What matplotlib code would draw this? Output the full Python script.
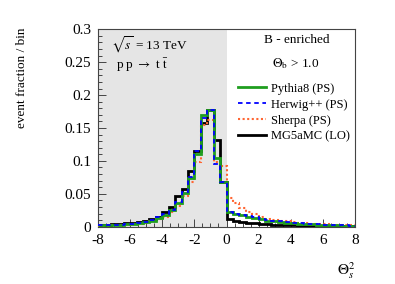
import matplotlib
matplotlib.use('Agg')
import matplotlib.pyplot as plt
import numpy as np
from matplotlib.ticker import MultipleLocator, FormatStrFormatter
from matplotlib.lines import Line2D

plt.rcParams.update({'font.family': 'Liberation Serif', 'mathtext.fontset': 'stix',
                     'font.size': 10})

# 40 bins of width 0.4 from -8 to 8
edges = np.linspace(-8, 8, 41)

pythia8 = [0.002, 0.002, 0.0025, 0.003, 0.0035, 0.004, 0.005, 0.007, 0.009, 0.013,
           0.018, 0.025, 0.036, 0.051, 0.074, 0.110, 0.169, 0.177, 0.105, 0.068,
           0.022, 0.020, 0.018, 0.015, 0.013, 0.011, 0.009, 0.008, 0.007, 0.006,
           0.005, 0.0045, 0.004, 0.0035, 0.003, 0.0025, 0.002, 0.002, 0.0015, 0.0015]
herwig = [0.002, 0.002, 0.0025, 0.003, 0.0035, 0.0045, 0.0055, 0.007, 0.010, 0.014,
          0.019, 0.026, 0.038, 0.052, 0.075, 0.115, 0.165, 0.177, 0.095, 0.068,
          0.023, 0.020, 0.018, 0.016, 0.014, 0.012, 0.010, 0.009, 0.008, 0.007,
          0.006, 0.005, 0.0045, 0.004, 0.0035, 0.003, 0.0025, 0.002, 0.002, 0.0015]
sherpa = [0.0015, 0.0015, 0.002, 0.0025, 0.003, 0.0035, 0.0045, 0.006, 0.008, 0.011,
          0.015, 0.022, 0.031, 0.046, 0.068, 0.099, 0.155, 0.162, 0.098, 0.093,
          0.044, 0.036, 0.029, 0.023, 0.020, 0.015, 0.012, 0.010, 0.009, 0.008,
          0.007, 0.006, 0.005, 0.0045, 0.004, 0.0035, 0.003, 0.0025, 0.002, 0.002]
mg5amc = [0.0025, 0.003, 0.0035, 0.004, 0.005, 0.006, 0.0075, 0.009, 0.011, 0.015,
          0.023, 0.030, 0.046, 0.058, 0.085, 0.115, 0.157, 0.177, 0.132, 0.068,
          0.011, 0.009, 0.007, 0.006, 0.005, 0.004, 0.0035, 0.003, 0.0025, 0.002,
          0.002, 0.0015, 0.0015, 0.001, 0.001, 0.001, 0.0008, 0.0007, 0.0005, 0.0005]

fig = plt.figure(figsize=(3.95, 2.84), dpi=100)
ax = fig.add_axes([98/395, 1-226.7/284, 257/395, 197.4/284])

ax.axvspan(-8, 0, color='#e5e5e5', zorder=0, lw=0)
ax.stairs(mg5amc, edges, baseline=None, color='black', lw=2.0, label='MG5aMC (LO)', zorder=2)
ax.stairs(sherpa, edges, baseline=None, color='#ff6633', lw=1.5, ls=(0, (1, 1.2)),
          label='Sherpa (PS)', zorder=3)
ax.stairs(pythia8, edges, baseline=None, color='#1f9e1f', lw=2.0, label='Pythia8 (PS)', zorder=4)
ax.stairs(herwig, edges, baseline=None, color='#0000ff', lw=1.3, ls=(0, (2.5, 2)),
          label='Herwig++ (PS)', zorder=5)

ax.set_xlim(-8, 8)
ax.set_ylim(0, 0.3)
ax.xaxis.set_major_locator(MultipleLocator(2))
ax.xaxis.set_minor_locator(MultipleLocator(0.5))
ax.yaxis.set_major_locator(MultipleLocator(0.05))
ax.yaxis.set_minor_locator(MultipleLocator(0.01))
ax.yaxis.set_major_formatter(FormatStrFormatter('%g'))
ax.xaxis.set_major_formatter(FormatStrFormatter('%g'))
ax.tick_params(which='both', direction='in', top=False, right=False, width=0.7, color='#444444')
ax.tick_params(which='major', length=6, pad=5, labelsize=11)
ax.tick_params(which='minor', length=3)
for s in ax.spines.values():
    s.set_color('#444444')
    s.set_linewidth(0.8)

fig.text(22/395, 1-78/284, 'event fraction / bin', rotation=90, ha='center', va='center',
         fontsize=9.5)
ax.text(1.0, -0.22, r'$\Theta_{s}^{2}$', transform=ax.transAxes, ha='right', va='center',
        fontsize=11)

ax.text(-7.2, 0.276, r'$\sqrt{s}$ = 13 TeV', ha='left', va='center', fontsize=9.5)
ax.text(-6.85, 0.245, r'p p $\rightarrow$ t $\bar{\mathrm{t}}$', ha='left', va='center',
        fontsize=9.5)
ax.text(4.35, 0.283, 'B - enriched', ha='center', va='center', fontsize=9.5)
ax.text(4.3, 0.248, r'$\Theta_{\rm b}$ > 1.0', ha='center', va='center', fontsize=9.5)

handles, labels = ax.get_legend_handles_labels()
order = ['Pythia8 (PS)', 'Herwig++ (PS)', 'Sherpa (PS)', 'MG5aMC (LO)']
hmap = dict(zip(labels, handles))
proxies = [Line2D([], [], color=hmap[l].get_edgecolor(), lw=hmap[l].get_linewidth(),
                  ls=hmap[l].get_linestyle()) for l in order]
ax.legend(proxies, order, loc='upper left', bbox_to_anchor=(0.545, 0.73), frameon=False,
          fontsize=9, handlelength=2.2, handletextpad=0.4, labelspacing=0.32,
          borderaxespad=0, borderpad=0)

fig.savefig('out.png', dpi=100)
